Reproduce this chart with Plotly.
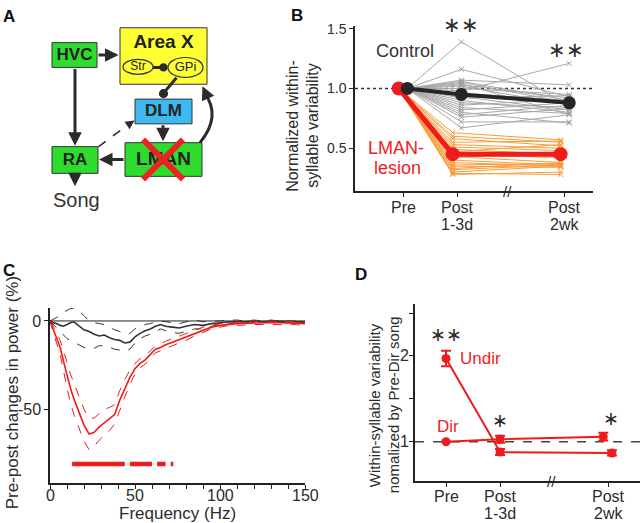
import plotly.graph_objects as go

FONT = "Liberation Sans, Arial, sans-serif"
INK = "#2b2b2b"
RED = "#ee1c1c"
W, H = 640, 523

# ---------------- data ----------------
# B: normalized within-syllable variability (each line = one syllable)
stage_x = [0, 1, 3]
stage_top = ["Pre", "Post", "Post"]
stage_bottom = ["", "1-3d", "2wk"]
ctrl_post1 = [1.39, 1.16, 1.07, 1.06, 1.05, 1.04, 1.03, 1.02, 1.00, 0.98, 0.96, 0.95,
              0.93, 0.92, 0.90, 0.88, 0.86, 0.84, 0.82, 0.80, 0.78, 0.76, 0.72, 0.67]
ctrl_post2 = [0.85, 0.93, 1.03, 0.90, 0.88, 0.78, 0.92, 0.86, 0.95, 1.21, 0.90, 0.87,
              0.82, 0.94, 0.80, 0.84, 0.91, 0.79, 0.88, 0.71, 0.86, 0.83, 0.72, 0.78]
les_post1 = [0.63, 0.60, 0.58, 0.55, 0.53, 0.51, 0.49, 0.47, 0.45, 0.43,
             0.42, 0.40, 0.38, 0.36, 0.35, 0.33, 0.32, 0.30, 0.29, 0.28]
les_post2 = [0.57, 0.55, 0.52, 0.56, 0.50, 0.48, 0.45, 0.53, 0.42, 0.38,
             0.47, 0.36, 0.35, 0.37, 0.34, 0.38, 0.36, 0.35, 0.28, 0.30]
ctrl_mean = [1.0, 0.95, 0.88]
les_mean = [1.0, 0.45, 0.45]

# C: pre-post change in power (%) vs frequency (Hz)
freq = [0, 2, 4, 6, 8, 10, 12, 14, 16, 18, 20, 23, 26, 29, 32, 35, 38, 41, 44, 47, 50, 53,
        56, 59, 62, 65, 68, 72, 76, 80, 85, 90, 95, 100, 105, 110, 115, 120, 125, 130,
        135, 140, 145, 150]
ctrl_pow = [0, -1, -1.5, -2.5, -3, -2, -1, -0.5, -2, -4, -5, -6, -7.5, -8.5, -8, -9.5,
            -10.5, -11, -12.5, -12, -9, -7, -5.5, -4.5, -3, -2, -3, -3.5, -4, -3, -2, -2.5,
            -1.5, -1, -0.5, -0.5, -0.5, 0, -0.5, 0, -0.3, -0.5, -0.5, -0.5]
ctrl_hi = [0, 1, 2, 3.5, 5, 6, 7, 7.2, 6.5, 5, 3, 0, -1, -1.5, -2, -3.5, -5, -6, -7.5,
           -7, -4.5, -3, -2, -1.5, -0.5, 0, -0.5, -1, -1.5, -0.5, 0.5, -0.5, 0, 0, 0.5,
           0.5, 0, 0.5, 0, 0.5, 0, 0, 0, 0]
ctrl_lo = [0, -2, -4, -6, -8, -10, -11, -12, -13, -14, -15, -16, -15.5, -14, -14, -15, -16,
           -16.5, -17, -16, -12.5, -10, -8.5, -7.5, -6, -4.5, -5.5, -6.5, -7, -6, -4.5,
           -4.5, -3, -2, -1.5, -1.5, -1, -1, -1, -0.5, -1, -1, -1, -1]
les_pow = [0, -5, -10, -15, -23, -31, -38, -44, -49, -54, -59, -64, -63, -60, -57.5, -55.5,
           -53, -45, -38, -32, -27, -24, -22, -19, -16, -15, -13.5, -12, -10.5, -9, -7, -5,
           -3.5, -2.5, -1.8, -1.5, -1.2, -1, -1, -1, -1, -1, -1.2, -1.5]
les_hi = [0, -3, -7, -11, -17, -24, -30, -35, -40, -45, -50, -55, -55, -52.5, -50, -49,
          -47.5, -39.5, -33, -28, -24, -21.5, -19.5, -17, -14, -13, -11.5, -10, -8.5, -7,
          -5.5, -3.5, -2.5, -1.5, -1, -0.5, -0.3, 0, 0, 0, 0, 0, -0.3, -0.5]
les_lo = [0, -7, -13, -19, -29, -38, -46, -53, -58, -63, -68, -73, -71, -67.5, -65, -62,
          -58.5, -50.5, -43, -36, -30, -26.5, -24.5, -21, -18, -17, -15.5, -14, -12.5, -11,
          -8.5, -6.5, -4.5, -3.5, -2.6, -2.5, -2.1, -2, -2, -2, -2, -2, -2.1, -2.5]
freq_ticks = [0, 50, 100, 150]
sig_from = [13, 47, 63, 71]
sig_to = [44, 60, 68, 72.5]
sig_level = -81

# D: variability normalized by Pre-Dir song
dir_mean = [1.0, 1.03, 1.06]
dir_sem = [0.0, 0.04, 0.045]
undir_mean = [1.97, 0.88, 0.87]
undir_sem = [0.09, 0.035, 0.03]
d_yticks = [1, 2]

# A: circuit diagram (diagram units = pixels of panel A)
boxes = [("HVC", 52, 38, 97, 63, "#2edc2e"),
         ("Area X", 120, 23, 207, 80, "#ffff33"),
         ("DLM", 135, 95, 192, 120, "#3db9ef"),
         ("RA", 52, 143, 98, 170, "#2edc2e"),
         ("LMAN", 125, 139, 202, 173, "#2edc2e")]


def px(x):
    return x / W


def py(y):
    return 1 - y / H


fig = go.Figure()

# ---------------- panel B ----------------
def joined(post1, post2, dx):
    xs, ys = [], []
    for a, b in zip(post1, post2):
        xs += [stage_x[0] + dx, stage_x[1] + dx, stage_x[2] + dx, None]
        ys += [1.0, a, b, None]
    return xs, ys

cx, cy = joined(ctrl_post1, ctrl_post2, 0.08)
lx, ly = joined(les_post1, les_post2, -0.08)
fig.add_trace(go.Scatter(x=cx, y=cy, mode="lines+markers", xaxis="x2", yaxis="y2",
                         line=dict(color="#a8a8a8", width=1),
                         marker=dict(symbol="x-thin", size=5, line=dict(color="#a0a0a0", width=1))))
fig.add_trace(go.Scatter(x=lx, y=ly, mode="lines+markers", xaxis="x2", yaxis="y2",
                         line=dict(color="#f89c3a", width=1),
                         marker=dict(symbol="x-thin", size=5, line=dict(color="#f89c3a", width=1))))
fig.add_trace(go.Scatter(x=[v - 0.08 for v in stage_x], y=les_mean, mode="lines+markers",
                         xaxis="x2", yaxis="y2", line=dict(color=RED, width=5),
                         marker=dict(size=14, color=RED)))
fig.add_trace(go.Scatter(x=[v + 0.08 for v in stage_x], y=ctrl_mean, mode="lines+markers",
                         xaxis="x2", yaxis="y2", line=dict(color="#262626", width=4),
                         marker=dict(size=13, color="#262626")))

# ---------------- panel C ----------------
for ys, col, dash, wd in [(ctrl_hi, "#333333", "dash", 1), (ctrl_lo, "#333333", "dash", 1),
                          (ctrl_pow, "#333333", "solid", 1.6),
                          (les_hi, RED, "dash", 1), (les_lo, RED, "dash", 1),
                          (les_pow, RED, "solid", 1.6)]:
    fig.add_trace(go.Scatter(x=freq, y=ys, mode="lines", xaxis="x", yaxis="y",
                             line=dict(color=col, width=wd, dash=dash)))
sx, sy = [], []
for a, b in zip(sig_from, sig_to):
    sx += [a, b, None]
    sy += [sig_level, sig_level, None]
fig.add_trace(go.Scatter(x=sx, y=sy, mode="lines", xaxis="x", yaxis="y",
                         line=dict(color=RED, width=4.5)))

# ---------------- panel D ----------------
dir_dx = [0, 0, -0.09]
undir_dx = [0, 0, 0.07]
fig.add_trace(go.Scatter(x=[a + b for a, b in zip(stage_x, dir_dx)], y=dir_mean,
                         mode="lines+markers", xaxis="x3", yaxis="y3",
                         line=dict(color=RED, width=2), marker=dict(size=9, color=RED),
                         error_y=dict(type="data", array=dir_sem, color=RED, thickness=2, width=5)))
fig.add_trace(go.Scatter(x=[a + b for a, b in zip(stage_x, undir_dx)], y=undir_mean,
                         mode="lines+markers", xaxis="x3", yaxis="y3",
                         line=dict(color=RED, width=2), marker=dict(size=9, color=RED),
                         error_y=dict(type="data", array=undir_sem, color=RED, thickness=2, width=5)))

# ---------------- panel A ----------------
shapes = []
for name, x0, y0, x1, y1, fill in boxes:
    shapes.append(dict(type="rect", xref="x4", yref="y4", x0=x0, y0=y0, x1=x1, y1=y1,
                       fillcolor=fill, line=dict(color="#333333", width=1), layer="below"))
for x0, y0, x1, y1 in [(123, 55, 153, 70), (168, 53, 203, 73)]:
    shapes.append(dict(type="circle", xref="x4", yref="y4", x0=x0, y0=y0, x1=x1, y1=y1,
                       fillcolor="#ffff33", line=dict(color="#333333", width=1.2), layer="below"))
for x0, y0, x1, y1 in [(153, 63, 163, 63), (176.5, 73.5, 163.5, 89)]:
    shapes.append(dict(type="line", xref="x4", yref="y4", x0=x0, y0=y0, x1=x1, y1=y1,
                       line=dict(color=INK, width=3), layer="below"))
for cxx, cyy, r in [(163.5, 63, 4.2), (163.5, 89.5, 4.6)]:
    shapes.append(dict(type="circle", xref="x4", yref="y4", x0=cxx - r, y0=cyy - r,
                       x1=cxx + r, y1=cyy + r, fillcolor=INK, line=dict(width=0), layer="below"))
shapes.append(dict(type="line", xref="x4", yref="y4", x0=98.5, y0=143, x1=130, y1=119.5,
                   line=dict(color=INK, width=1.5, dash="dash"), layer="below"))
shapes.append(dict(type="path", xref="x4", yref="y4", path="M200,139 Q222,112 204,88",
                   line=dict(color=INK, width=3), layer="below"))
for x0, y0, x1, y1 in [(143, 136, 183, 176), (183, 136, 143, 176)]:
    shapes.append(dict(type="line", xref="x4", yref="y4", x0=x0, y0=y0, x1=x1, y1=y1,
                       line=dict(color="#ee2222", width=6), layer="above"))

# reference lines
shapes.append(dict(type="line", xref="x2 domain", yref="y2", x0=0, x1=1, y0=1, y1=1,
                   line=dict(color="#333333", width=1.5, dash="dot"), layer="below"))
shapes.append(dict(type="line", xref="x3 domain", yref="y3", x0=0, x1=1, y0=1, y1=1,
                   line=dict(color="#444444", width=1.5, dash="dash"), layer="below"))
shapes.append(dict(type="line", xref="x", yref="y", x0=0, x1=150, y0=0, y1=0,
                   line=dict(color="#222222", width=1), layer="below"))

fig.add_trace(go.Scatter(
    x=[74.5, 163.5, 138, 185.5, 163.5, 75, 163.5],
    y=[51, 38.5, 62.5, 63.5, 108, 157, 156.5],
    text=["<b>HVC</b>", "<b>Area X</b>", "Str", "GPi", "<b>DLM</b>", "<b>RA</b>", "<b>LMAN</b>"],
    mode="text", xaxis="x4", yaxis="y4",
    textfont=dict(family=FONT, color="#222222", size=[17, 19, 12, 13, 17, 17, 19])))

arrows = [(118.5, 50.5, 97, 50.5), (75, 142, 75, 63), (163, 137.5, 163, 120),
          (99, 156, 125, 156), (75, 183, 75, 170)]
ann = []
for hx, hy, tx, ty in arrows:
    ann.append(dict(x=hx, y=hy, ax=tx, ay=ty, xref="x4", yref="y4", axref="x4", ayref="y4",
                    text="", showarrow=True, arrowhead=2, arrowsize=0.9, arrowwidth=3,
                    arrowcolor=INK))
ann.append(dict(x=134.5, y=116.5, ax=128, ay=121, xref="x4", yref="y4", axref="x4", ayref="y4",
                text="", showarrow=True, arrowhead=2, arrowsize=1.2, arrowwidth=1.5, arrowcolor=INK))
ann.append(dict(x=202.5, y=82, ax=206.5, ay=91, xref="x4", yref="y4", axref="x4", ayref="y4",
                text="", showarrow=True, arrowhead=2, arrowsize=0.9, arrowwidth=3, arrowcolor=INK))


def note(x, y, t, size, color=INK, xref="paper", yref="paper", xanchor="center", angle=0):
    if xref == "paper":
        x = px(x)
    if yref == "paper":
        y = py(y)
    return dict(x=x, y=y, xref=xref, yref=yref, text=t, showarrow=False, textangle=angle,
                xanchor=xanchor, yanchor="middle", font=dict(family=FONT, size=size, color=color))


ann.append(note(76, 197, "Song", 20, "#333333", "x4", "y4"))

# panel letters
for lab, x, y in [("A", 9, 12), ("B", 297, 11), ("C", 9, 268), ("D", 361, 272)]:
    ann.append(note(x, y, "<b>%s</b>" % lab, 17, "#111111"))

# panel B texts
ann += [note(1.07, 20, "∗∗", 21, INK, "x2"), note(3.02, 45, "∗∗", 21, INK, "x2"),
        note(0.04, 1.31, "Control", 18, "#333333", "x2", "y2"),
        note(-0.13, 0.505, "LMAN-", 18, RED, "x2", "y2"),
        note(-0.105, 0.337, "lesion", 18, RED, "x2", "y2"),
        note(1.94, 188, "//", 15, INK, "x2")]
for xv, t1, t2 in zip(stage_x, stage_top, stage_bottom):
    ann.append(note(xv, 204, t1, 16, INK, "x2"))
    ann.append(note(xv, 222, t2, 16, INK, "x2"))

# panel D texts
ann += [note(0.0, 333, "∗∗", 19, INK, "x3"), note(1.0, 420, "∗", 19, INK, "x3"),
        note(3.06, 417, "∗", 19, INK, "x3"),
        note(0.23, 1.97, "Undir", 17, RED, "x3", "y3", "left"),
        note(0.03, 1.18, "Dir", 17, RED, "x3", "y3"),
        note(1.96, 481, "//", 15, INK, "x3")]
for xv, t1, t2 in zip(stage_x, stage_top, stage_bottom):
    ann.append(note(xv, 496, t1, 16, INK, "x3"))
    ann.append(note(xv, 513, t2, 16, INK, "x3"))
for v in d_yticks:
    ann.append(note(411, v, str(v), 16, INK, "paper", "y3", "right"))

# panel C tick labels
for f in freq_ticks:
    ann.append(note(f, 495, str(f), 16, INK, "x"))

# axis titles
ann += [note(293, 122, "Normalized within-", 16, INK, angle=-90),
        note(313, 122, "syllable variability", 16, INK, angle=-90),
        note(12, 392, "Pre-post changes in power (%)", 17, INK, angle=-90),
        note(177, 513, "Frequency (Hz)", 17, INK),
        note(374, 404, "Within-syllable variability", 15, INK, angle=-90),
        note(393, 404, "nomalized by Pre-Dir song", 15, INK, angle=-90)]

axis_style = dict(showline=True, linecolor="#222222", linewidth=1.5, ticks="outside",
                  ticklen=4, tickcolor="#222222", showgrid=False, zeroline=False,
                  tickfont=dict(family=FONT, size=16, color=INK))

fig.update_layout(
    width=W, height=H, autosize=False, showlegend=False,
    margin=dict(l=0, r=0, t=0, b=0), plot_bgcolor="white", paper_bgcolor="white",
    shapes=shapes, annotations=ann,
    # C
    xaxis=dict(axis_style, domain=[px(50), px(305)], range=[0, 150], anchor="y",
               tickvals=list(range(0, 151, 10)), showticklabels=False),
    yaxis=dict(axis_style, domain=[py(483), py(306)], range=[-92, 7.3], anchor="x",
               tickvals=[-50, 0], ticktext=["-50", "0"]),
    # B
    xaxis2=dict(axis_style, domain=[px(355), px(593)], range=[-0.89, 3.52], anchor="y2",
                tickvals=stage_x, showticklabels=False),
    yaxis2=dict(axis_style, domain=[py(188), py(20.7)], range=[0.14, 1.527], anchor="x2",
                tickvals=[0.5, 1.0, 1.5], ticktext=["0.5", "1.0", "1.5"],
                tickfont=dict(family=FONT, size=14, color=INK)),
    # D
    xaxis3=dict(axis_style, domain=[px(415), px(640)], range=[-0.574, 3.59], anchor="y3",
                tickvals=stage_x, showticklabels=False),
    yaxis3=dict(axis_style, domain=[py(480.7), py(301.7)], range=[0.542, 2.607], anchor="x3",
                tickvals=[1, 1.5, 2, 2.5], showticklabels=False),
    # A (diagram canvas)
    xaxis4=dict(domain=[0, px(320)], range=[0, 320], visible=False, anchor="y4"),
    yaxis4=dict(domain=[py(260), 1], range=[260, 0], visible=False, anchor="x4"),
)

fig.write_html("out.html", config={"displayModeBar": False},
               post_script="document.body.style.margin='0px';")
